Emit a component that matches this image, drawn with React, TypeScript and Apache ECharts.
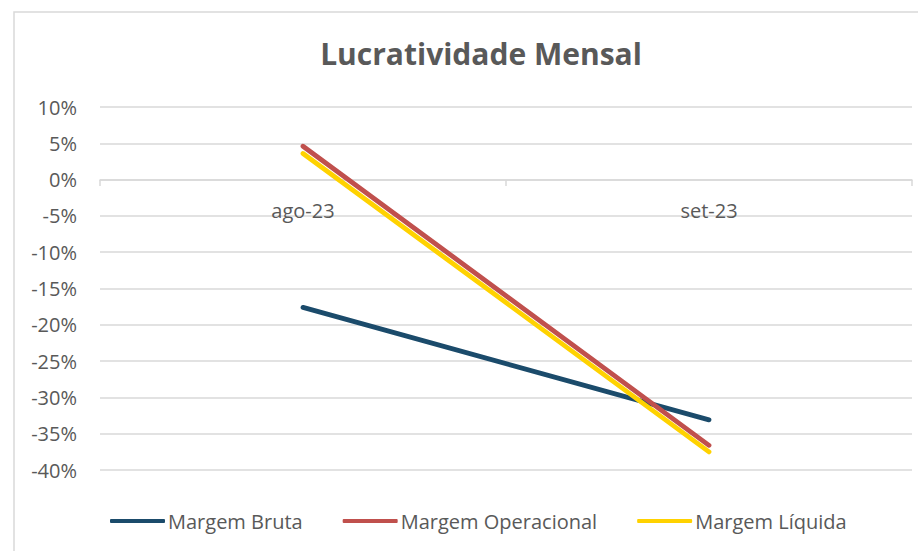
import React, { useEffect, useRef } from "react";
import * as echarts from "echarts";

const categories = ["ago-23", "set-23"];
const margemBruta = [-17.6, -33.1];
const margemOperacional = [4.6, -36.6];
const margemLiquida = [3.6, -37.5];
const seriesNames = ["Margem Bruta", "Margem Operacional", "Margem Líquida"];
const titleText = "Lucratividade Mensal";

const FONT = "'Open Sans', sans-serif";
const GRAY = "#595959";

export default function App() {
  const ref = useRef<HTMLDivElement>(null);
  useEffect(() => {
    if (!ref.current) return;
    const chart = echarts.init(ref.current, undefined, { renderer: "svg" });
    const mk = (name: string, data: number[], color: string) => ({
      name,
      type: "line",
      data,
      symbol: "none",
      showSymbol: false,
      lineStyle: { color, width: 4.8, cap: "round" },
      itemStyle: { color },
    });
    chart.setOption({
      animation: false,
      backgroundColor: "#ffffff",
      title: {
        text: titleText,
        left: 476,
        textAlign: "center",
        top: 33,
        textStyle: { fontFamily: FONT, fontSize: 30, fontWeight: "bold", color: GRAY },
      },
      graphic: [
        {
          type: "polyline",
          shape: { points: [[14, 551], [14, 12], [918, 12]] },
          style: { stroke: "#d9d9d9", lineWidth: 1.5, fill: "none" },
          silent: true,
        },
      ],
      grid: { left: 100, right: 6, top: 107, bottom: 81, containLabel: false },
      xAxis: {
        type: "category",
        data: categories,
        boundaryGap: true,
        position: "bottom",
        offset: -290,
        axisLine: { onZero: false, lineStyle: { color: "#d9d9d9", width: 1.5 } },
        axisTick: { show: true, length: 6, lineStyle: { color: "#d9d9d9", width: 1.5 } },
        axisLabel: { margin: 20, fontFamily: FONT, fontSize: 20, color: GRAY },
        splitLine: { show: false },
      },
      yAxis: {
        type: "value",
        min: -40,
        max: 10,
        interval: 5,
        axisLine: { show: false },
        axisTick: { show: false },
        axisLabel: { formatter: "{value}%", margin: 23, fontFamily: FONT, fontSize: 20, color: GRAY },
        splitLine: { lineStyle: { color: "#d9d9d9", width: 1.5 } },
      },
      legend: {
        data: seriesNames,
        left: 105,
        top: 506,
        itemWidth: 55,
        itemHeight: 4,
        itemGap: 40,
        icon: "roundRect",
        textStyle: { fontFamily: FONT, fontSize: 20, color: GRAY, padding: [0, 0, 0, -2] },
      },
      series: [
        mk(seriesNames[0], margemBruta, "#1b4b6b"),
        mk(seriesNames[1], margemOperacional, "#c0504d"),
        mk(seriesNames[2], margemLiquida, "#ffd200"),
      ],
    });
    return () => chart.dispose();
  }, []);
  return (
    <div
      ref={ref}
      style={{ position: "absolute", left: 0, top: 0, width: 918, height: 551, background: "#fff" }}
    />
  );
}
